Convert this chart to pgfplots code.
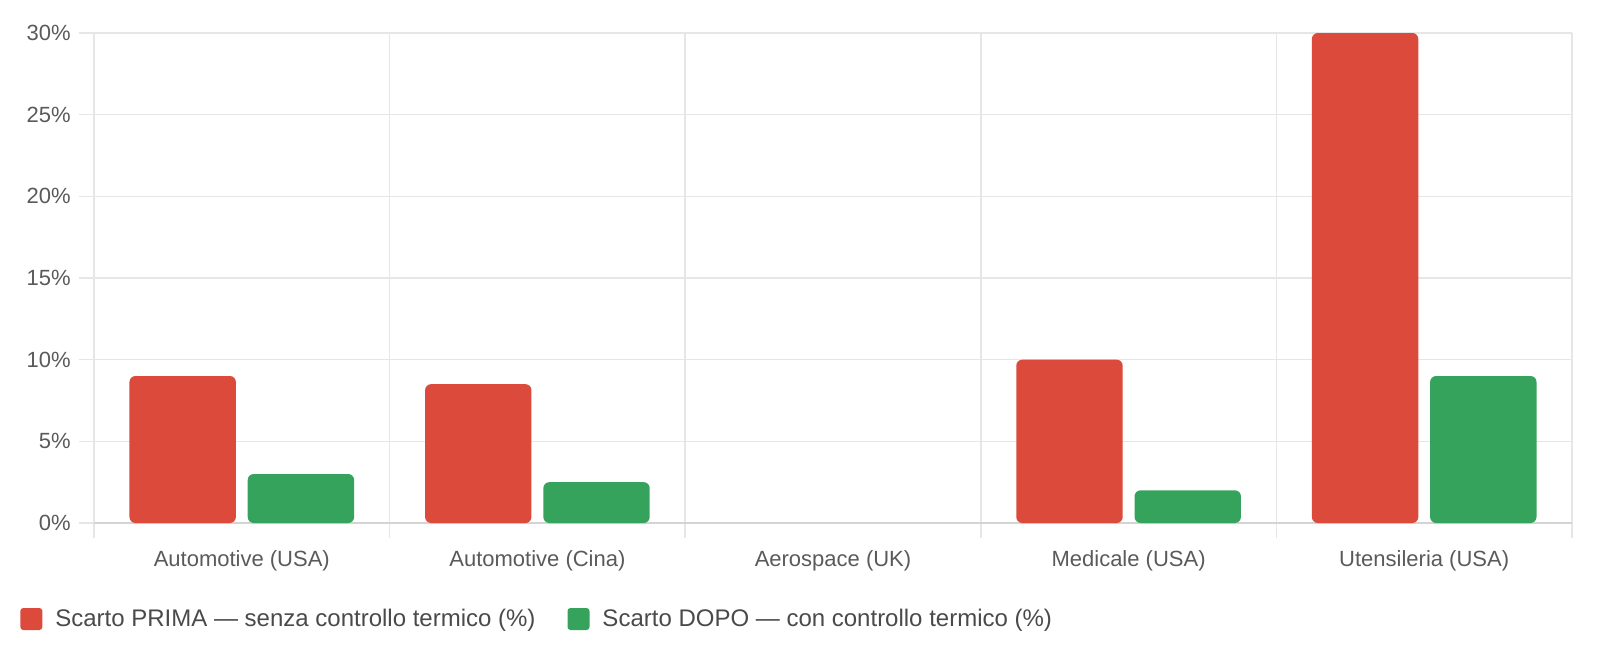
\documentclass[border=0pt]{standalone}
\usepackage{pgfplots}
\pgfplotsset{compat=1.18}
\usepackage{fontspec}
\setmainfont{Liberation Sans}
\definecolor{cred}{HTML}{DC4A3C}
\definecolor{cgreen}{HTML}{35A35C}
\definecolor{gridc}{HTML}{E6E6E6}
\definecolor{axc}{HTML}{D4D4D4}
\definecolor{tickc}{HTML}{5A5A5A}
\definecolor{legc}{HTML}{4A4A4A}
\begin{document}
\begin{tikzpicture}
\useasboundingbox (0,0) rectangle (800pt,322.5pt);
\begin{axis}[
  at={(47pt,61pt)}, anchor=south west,
  scale only axis, width=739pt, height=245pt,
  xmin=-0.5, xmax=4.5, ymin=0, ymax=30,
  axis line style={draw=none},
  xtick={0,1,2,3,4},
  xticklabels={Automotive (USA),Automotive (Cina),Aerospace (UK),Medicale (USA),Utensileria (USA)},
  minor xtick={-0.5,0.5,1.5,2.5,3.5,4.5},
  ytick={5,10,15,20,25,30},
  extra y ticks={0},
  extra y tick style={grid style={color=axc, line width=0.9pt}},
  yticklabel={\pgfmathprintnumber{\tick}\%},
  extra y tick labels={0\%},
  ymajorgrids, xminorgrids,
  grid style={color=gridc, line width=0.8pt},
  minor grid style={color=gridc, line width=0.8pt},
  tick align=outside,
  tick pos=left,
  major tick length=7.5pt,
  minor tick length=7.5pt,
  x tick style={draw=none},
  minor x tick style={draw=gridc, line width=0.8pt},
  y tick style={draw=gridc, line width=0.8pt},
  every tick label/.append style={font=\fontsize{11}{13}\selectfont, text=tickc},
  /pgf/number format/assume math mode=true,
  xticklabel style={inner sep=0pt, anchor=north, yshift=-6pt},
  yticklabel style={inner sep=0pt, anchor=east, xshift=-4pt},
  legend columns=2,
  legend style={draw=none, fill=none, at={(-0.0501,-0.1959)}, anchor=west,
    inner sep=0pt, column sep=0pt, row sep=0pt,
    nodes={inner sep=0pt, anchor=west, font=\fontsize{12}{14}\selectfont, text=legc}},
  /tikz/every even column/.append style={column sep=16pt},
  legend image code/.code={
    \fill[#1, rounded corners=1.5pt] (0pt,-5.5pt) rectangle (11pt,5.5pt);
    \path (17.5pt,0pt);
  },
]
\addplot[ybar, bar width=0.36, bar shift=-0.2, fill=cred, draw=none, rounded corners=3pt]
  coordinates {(0,9) (1,8.5) (3,10) (4,30)};
\addlegendentry{Scarto PRIMA — senza controllo termico (\%)}
\addplot[ybar, bar width=0.36, bar shift=0.2, fill=cgreen, draw=none, rounded corners=3pt]
  coordinates {(0,3) (1,2.5) (3,2) (4,9)};
\addlegendentry{Scarto DOPO — con controllo termico (\%)}
\end{axis}
\end{tikzpicture}
\end{document}
